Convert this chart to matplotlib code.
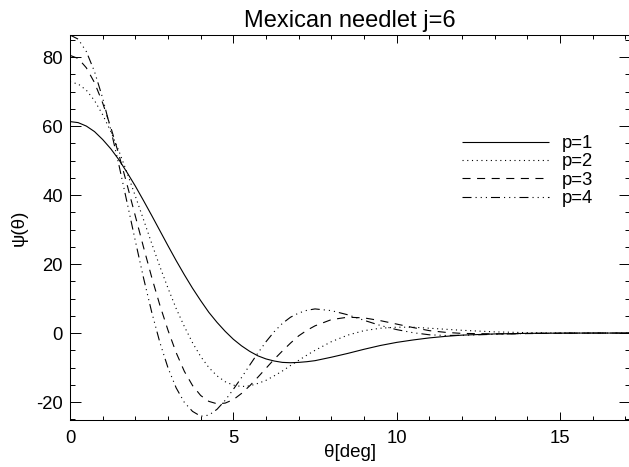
import matplotlib
matplotlib.use("Agg")
import matplotlib.pyplot as plt
from matplotlib.ticker import MultipleLocator

plt.rcParams['font.family'] = ['Liberation Sans', 'DejaVu Sans']
plt.rcParams['lines.scale_dashes'] = False
plt.rcParams['axes.unicode_minus'] = False

title = "Mexican needlet j=6"
xlabel = "θ[deg]"
ylabel = "ψ(θ)"
labels = ["p=1", "p=2", "p=3", "p=4"]

theta = [0, 0.25, 0.5, 0.75, 1, 1.25, 1.5, 1.75, 2, 2.25, 2.5, 2.75, 3, 3.25, 3.5,
         3.75, 4, 4.25, 4.5, 4.75, 5, 5.25, 5.5, 5.75, 6, 6.25, 6.5, 6.75, 7, 7.25,
         7.5, 8, 8.5, 9, 9.5, 10, 10.5, 11, 11.5, 12, 13, 14, 15, 16, 17.15]

p1 = [61.3, 61.0, 60.0, 58.4, 56.1, 53.4, 50.2, 46.5, 42.6, 38.4, 34.1, 29.7, 25.3, 21.0, 16.9,
      13.0, 9.4, 6.0, 3.1, 0.5, -1.8, -3.7, -5.3, -6.6, -7.5, -8.1, -8.5, -8.6, -8.5, -8.3,
      -8.0, -7.0, -5.9, -4.7, -3.6, -2.7, -2.0, -1.4, -0.95, -0.6, -0.25, -0.08, -0.02, 0, 0]

p2 = [72.8, 72.2, 70.4, 67.4, 63.3, 58.4, 52.7, 46.4, 39.7, 32.9, 26.0, 19.3, 13.0, 7.1, 1.9,
      -2.8, -6.8, -10.0, -12.4, -14.1, -15.1, -15.5, -15.3, -14.6, -13.7, -12.4, -11.0, -9.4, -7.9, -6.4,
      -5.0, -2.5, -0.6, 0.7, 1.4, 1.7, 1.7, 1.4, 1.1, 0.8, 0.35, 0.12, 0.03, 0, 0]

p3 = [80.5, 79.6, 76.9, 72.6, 66.7, 59.6, 51.6, 42.9, 33.9, 24.9, 16.2, 8.1, 0.8, -5.7, -11.1,
      -15.2, -18.1, -19.8, -20.5, -20.3, -19.3, -17.5, -15.3, -12.8, -10.2, -7.6, -5.2, -2.9, -0.8, 0.8,
      2.1, 3.9, 4.6, 4.4, 3.6, 2.6, 1.6, 0.7, 0.2, -0.1, -0.25, -0.15, -0.05, 0, 0]

p4 = [86.4, 85.2, 81.6, 75.8, 68.1, 58.9, 48.6, 37.7, 26.7, 16.0, 6.1, -2.7, -10.1, -15.9, -20.1,
      -22.7, -24.1, -23.8, -22.1, -19.5, -16.3, -12.9, -9.3, -5.8, -2.5, 0.4, 2.8, 4.6, 5.8, 6.6,
      7.0, 6.5, 5.3, 3.7, 2.2, 1.0, 0.1, -0.5, -0.7, -0.65, -0.35, -0.12, -0.03, 0, 0]

series = [p1, p2, p3, p4]
dash_styles = [
    (0, ()),
    (0, (0.8, 2.6)),
    (0, (5.8, 4.7)),
    (0, (6.5, 2.9, 0.8, 2.9, 0.8, 2.9, 0.8, 2.9)),
]

W, H = 629, 467
fig = plt.figure(figsize=(W / 100, H / 100), dpi=100)
ax = fig.add_axes([70 / W, (H - 420) / H, 560 / W, 385 / H])

for ys, ls, lab in zip(series, dash_styles, labels):
    ax.plot(theta, ys, color='black', lw=0.8, linestyle=ls, label=lab)

ax.set_xlim(0, 17.14)
ax.set_ylim(-25.2, 86.4)
ax.xaxis.set_major_locator(MultipleLocator(5))
ax.xaxis.set_minor_locator(MultipleLocator(1))
ax.yaxis.set_major_locator(MultipleLocator(20))
ax.yaxis.set_minor_locator(MultipleLocator(5))
ax.tick_params(axis='both', which='both', direction='in', top=True, right=True,
               width=0.7, labelsize=13.3, colors='black')
ax.tick_params(axis='x', which='major', length=5.5, pad=7)
ax.tick_params(axis='x', which='minor', length=2.8)
ax.tick_params(axis='y', which='major', length=7.6, pad=5)
ax.tick_params(axis='y', which='minor', length=3.7)
for s in ax.spines.values():
    s.set_linewidth(0.75)

ax.set_title(title, fontsize=17, pad=6)
ax.set_xlabel(xlabel, fontsize=13.5, labelpad=-2)
ax.set_ylabel(ylabel, fontsize=13.5, labelpad=6)

leg = ax.legend(loc='upper left', bbox_to_anchor=((462 - 70) / 560, (420 - 135) / 385),
                frameon=False, fontsize=13.3, handlelength=4.7, handletextpad=0.7,
                labelspacing=0.08, borderpad=0, borderaxespad=0)

fig.savefig('out.png', dpi=100)
